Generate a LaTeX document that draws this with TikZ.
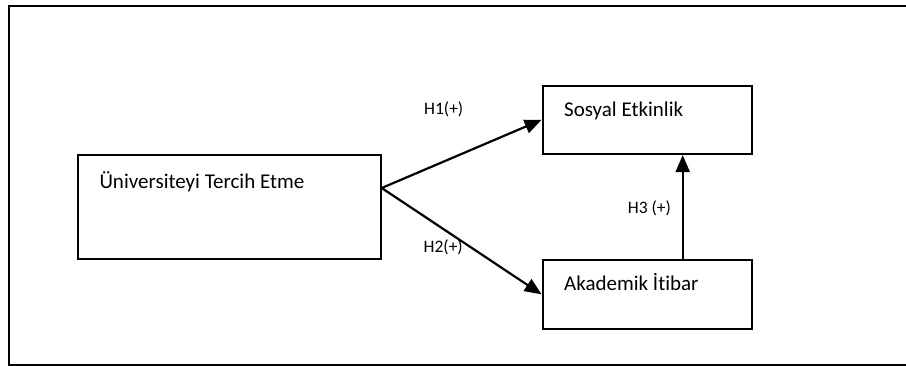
\documentclass[tikz,border=0pt]{standalone}
\usepackage{fontspec}
\setmainfont{Carlito}[Ligatures={NoCommon}]
\usetikzlibrary{arrows.meta}
\begin{document}
\begin{tikzpicture}[x={(1pt,0)},y={(0,-1pt)},
  box/.style={draw=black,line width=2pt,minimum width=#1,inner sep=0pt},
  boxtext/.style={anchor=base west,inner sep=0pt,font=\fontsize{21}{25}\selectfont},
  lbl/.style={anchor=base west,inner sep=0pt,font=\fontsize{17.5}{21}\selectfont},
  conn/.style={line width=2.2pt,-{Triangle[length=17pt,width=14pt]}}]
\clip (0,0) rectangle (906,365);
\fill[white] (0,0) rectangle (906,365);
\node[draw=black,line width=2pt,minimum width=902pt,minimum height=358.7pt,inner sep=0pt,anchor=north west] (frame) at (8,5) {};
\node[box=302.4pt,minimum height=104pt] (U) at (229.5,207) {};
\node[box=209.3pt,minimum height=68.5pt] (S) at (647.3,119.8) {};
\node[box=209.3pt,minimum height=69.8pt] (A) at (647.3,294.4) {};
\node[boxtext] (Ut) at (99.3,188) {Üniversiteyi Tercih Etme};
\node[boxtext] (St) at (564,116.7) {Sosyal Etkinlik};
\node[boxtext] (At) at (564,290.5) {Akademik İtibar};
\draw[conn] ([yshift=19pt]U.east) -- (S.west);
\draw[conn] ([yshift=19pt]U.east) -- (A.west);
\draw[conn] ([xshift=35.4pt]A.north) -- ([xshift=35.4pt]S.south);
\node[lbl] (h1) at (424,114) {H1(+)};
\node[lbl] (h2) at (423.5,252) {H2(+)};
\node[lbl] (h3) at (627.7,213) {H3 (+)};
\end{tikzpicture}
\end{document}
